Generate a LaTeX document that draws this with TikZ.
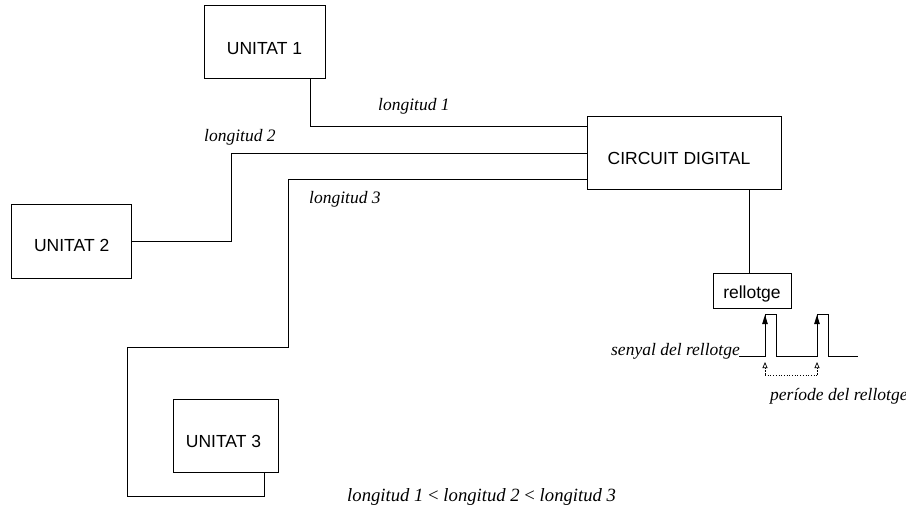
\documentclass[tikz,border=0pt]{standalone}
\usepackage{fontspec}
\setmainfont{Liberation Serif}
\newfontfamily\boxfont{Liberation Sans}
\usetikzlibrary{arrows.meta}

\tikzset{
  unit/.style={draw, line width=0.9pt, inner sep=0pt},
  boxtext/.style={font=\boxfont\fontsize{17.5}{21}\selectfont, inner sep=0pt},
  lbl/.style={font=\itshape\fontsize{17.5}{21}\selectfont, inner sep=0pt},
  biglbl/.style={font=\itshape\fontsize{18.7}{22}\selectfont, inner sep=0pt},
  wire/.style={line width=0.9pt},
  edgetip/.style={-{Triangle[length=9pt,width=5.5pt]}},
  marktip/.style={dashed, dash pattern=on 2pt off 1.5pt, -{Triangle[open,length=6pt,width=5pt]}},
}

\begin{document}
\begin{tikzpicture}[x=1pt, y=-1pt]
\useasboundingbox (0,0) rectangle (906,508);

% blocks
\node[unit, minimum width=121pt, minimum height=73pt] (u1) at (264.5,42.3) {};
\node[unit, minimum width=120pt, minimum height=74pt] (u2) at (71.7,241) {};
\node[unit, minimum width=105pt, minimum height=73pt] (u3) at (225.5,435.5) {};
\node[unit, minimum width=194pt, minimum height=73pt] (cd) at (684,152.5) {};
\node[unit, minimum width=78pt, minimum height=35pt] (rl) at (752,290.5) {};

\node[boxtext] (t1) at ([yshift=-6pt]u1.center) {UNITAT 1};
\node[boxtext] (t2) at ([yshift=-4pt]u2.center) {UNITAT 2};
\node[boxtext] (t3) at ([xshift=-2pt,yshift=-6pt]u3.center) {UNITAT 3};
\node[boxtext] (tc) at ([xshift=-5pt,yshift=-6pt]cd.center) {CIRCUIT DIGITAL};
\node[boxtext] (tr) at ([yshift=-3pt]rl.center) {rellotge};

% wires to the digital circuit
\draw[wire] (u1.south -| 310,0) |- (cd.west |- 0,126);
\draw[wire] (u2.east) -| (231,153) -- (cd.west |- 0,153);
\draw[wire] (u3.south -| 264,0) -- (264,496) -- (127,496) -- (127,347)
            -- (288,347) -- (288,179) -- (cd.west |- 0,179);
\draw[wire] (cd.south -| 749,0) -- (rl.north -| 749,0);

% wire labels
\node[lbl, anchor=base west] (l1) at (378,111) {longitud 1};
\node[lbl, anchor=base west] (l2) at (204,142) {longitud 2};
\node[lbl, anchor=base west] (l3) at (309,204) {longitud 3};

% clock waveform
\coordinate (r1) at (765,356);
\coordinate (r2) at (817,356);
\draw[wire] (739,356) -- (r1) -- (765,314) -- (776,314) -- (776,356)
            -- (r2) -- (817,314) -- (828,314) -- (828,356) -- (858,356);
\draw[wire, edgetip] (r1) -- (765,315);
\draw[wire, edgetip] (r2) -- (817,315);

% period marks
\coordinate (p1) at (765,375);
\coordinate (p2) at (817,375);
\draw[line width=0.7pt, marktip] (p1) -- (765,362);
\draw[line width=0.7pt, marktip] (p2) -- (817,362);
\draw[line width=0.7pt, dotted] (p1) -- (p2);

\node[lbl, anchor=base east] (sl) at (740,355) {senyal del rellotge};
\node[lbl, anchor=base west] (pl) at (770,400) {període del rellotge};

\node[biglbl, anchor=base west] (cmp) at (347,501)
  {longitud 1 \textup{<} longitud 2 \textup{<} longitud 3};
\end{tikzpicture}
\end{document}
